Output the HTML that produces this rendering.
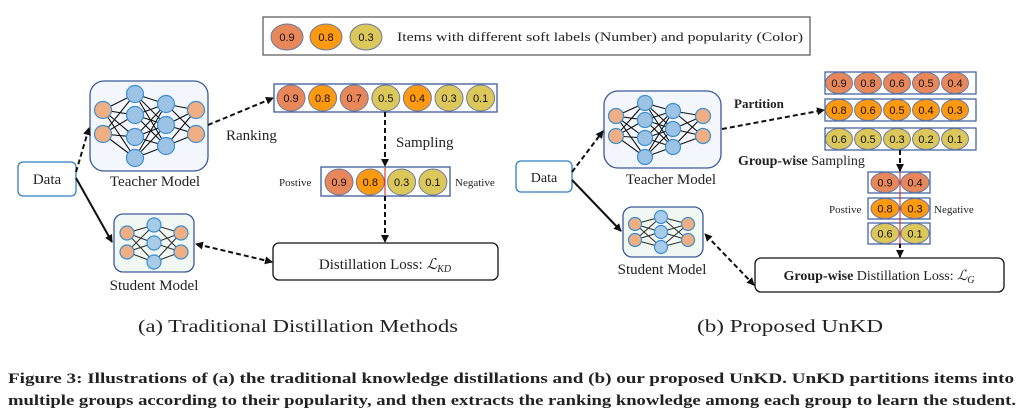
<!DOCTYPE html>
<html><head><meta charset="utf-8"><style>
html,body{margin:0;padding:0;background:#fff;}
svg{display:block;}
.s{font-family:"Liberation Serif",serif;fill:#222;}
.n{font-family:"Liberation Sans",sans-serif;font-size:11px;fill:#111;text-anchor:middle;}
</style></head><body>
<svg id="sv" width="1030" height="415" viewBox="0 0 1030 415" xmlns="http://www.w3.org/2000/svg">
<defs>
<marker id="ah" markerWidth="8" markerHeight="8" refX="7" refY="4" orient="auto" markerUnits="userSpaceOnUse"><path d="M0,0 L8,4 L0,8 z" fill="#111"/></marker>
<marker id="ahs" markerWidth="8" markerHeight="8" refX="1" refY="4" orient="auto" markerUnits="userSpaceOnUse"><path d="M8,0 L0,4 L8,8 z" fill="#111"/></marker>
</defs>
<rect x="263" y="17" width="547" height="38" fill="#fff" stroke="#555" stroke-width="1.2"/>
<g id="legend"></g>
<text class="s" x="397" y="41" font-size="13" textLength="406" lengthAdjust="spacingAndGlyphs">Items with different soft labels (Number) and popularity (Color)</text>

<rect x="18" y="162" width="58" height="34" rx="5" fill="#fff" stroke="#2d7fc0" stroke-width="1.3"/>
<text class="s" x="47" y="184" font-size="15" text-anchor="middle">Data</text>
<rect x="90" y="81" width="118" height="90" rx="14" fill="#f3f7fd" stroke="#3a5a9a" stroke-width="1.3"/>
<g id="tnet1"></g>
<text class="s" x="155" y="186" font-size="15" text-anchor="middle">Teacher Model</text>
<rect x="114" y="214" width="80" height="58" rx="9" fill="#f1f7f2" stroke="#3a5a9a" stroke-width="1.3"/>
<g id="snet1"></g>
<text class="s" x="154" y="290" font-size="15" text-anchor="middle">Student Model</text>

<rect x="274" y="84" width="223" height="28" fill="#fff" stroke="#3a5a9a" stroke-width="1.3"/>
<g id="rank"></g>
<text class="s" x="226" y="140" font-size="15">Ranking</text>
<text class="s" x="396" y="147" font-size="15">Sampling</text>
<rect x="321" y="167" width="129" height="29" fill="#fff" stroke="#3a5a9a" stroke-width="1.3"/>
<g id="samp"></g>
<line x1="385" y1="168" x2="385" y2="195" stroke="#e01010" stroke-width="1"/>
<text class="s" x="279" y="186" font-size="11">Postive</text>
<text class="s" x="455" y="186" font-size="11">Negative</text>
<rect x="273" y="243" width="225" height="37" rx="6" fill="#fff" stroke="#111" stroke-width="1.3"/>
<text class="s" x="385" y="269" font-size="15" text-anchor="middle">Distillation Loss: <tspan font-style="italic">ℒ</tspan><tspan font-size="10" font-style="italic" dy="3">KD</tspan></text>

<g stroke="#111" stroke-width="2" fill="none">
<line x1="76" y1="172" x2="89" y2="128" stroke-dasharray="5,3" marker-end="url(#ah)"/>
<line x1="76" y1="178" x2="112" y2="242" marker-end="url(#ah)"/>
<line x1="208" y1="125" x2="273" y2="98" stroke-dasharray="5,3" marker-end="url(#ah)"/>
<line x1="385" y1="112" x2="385" y2="166" stroke-dasharray="5,3" marker-end="url(#ah)"/>
<line x1="385" y1="196" x2="385" y2="242" stroke-dasharray="5,3" marker-end="url(#ah)"/>
<line x1="272" y1="262" x2="196" y2="244" stroke-dasharray="5,3" marker-end="url(#ah)" marker-start="url(#ahs)"/>
</g>

<rect x="516" y="161" width="56" height="31" rx="5" fill="#fff" stroke="#2d7fc0" stroke-width="1.3"/>
<text class="s" x="544" y="182" font-size="14" text-anchor="middle">Data</text>
<rect x="604" y="91" width="117" height="77" rx="14" fill="#f3f7fd" stroke="#3a5a9a" stroke-width="1.3"/>
<g id="tnet2"></g>
<text class="s" x="671" y="184" font-size="15" text-anchor="middle">Teacher Model</text>
<rect x="623" y="207" width="80" height="50" rx="9" fill="#f1f7f2" stroke="#3a5a9a" stroke-width="1.3"/>
<g id="snet2"></g>
<text class="s" x="662" y="274" font-size="15" text-anchor="middle">Student Model</text>
<text class="s" x="734" y="108" font-size="13" font-weight="bold">Partition</text>
<g id="groups"></g>
<text class="s" x="738" y="165" font-size="14"><tspan font-weight="bold">Group-wise</tspan> Sampling</text>
<g id="gs"></g>
<line x1="900" y1="172" x2="900" y2="244" stroke="#e01010" stroke-width="1"/>
<text class="s" x="829" y="213" font-size="11">Postive</text>
<text class="s" x="934" y="213" font-size="11">Negative</text>
<rect x="755" y="258" width="249" height="34" rx="6" fill="#fff" stroke="#111" stroke-width="1.3"/>
<text class="s" x="879" y="280" font-size="14" text-anchor="middle"><tspan font-weight="bold">Group-wise</tspan> Distillation Loss: <tspan font-style="italic">ℒ</tspan><tspan font-size="10" font-style="italic" dy="3">G</tspan></text>
<g stroke="#111" stroke-width="2" fill="none">
<line x1="572" y1="172" x2="603" y2="131" stroke-dasharray="5,3" marker-end="url(#ah)"/>
<line x1="572" y1="180" x2="621" y2="231" marker-end="url(#ah)"/>
<line x1="722" y1="129" x2="824" y2="110" stroke-dasharray="5,3" marker-end="url(#ah)"/>
<line x1="900" y1="150" x2="900" y2="171" stroke-dasharray="5,3" marker-end="url(#ah)"/>
<line x1="900" y1="244" x2="900" y2="257" stroke-dasharray="4,2" marker-end="url(#ah)"/>
<line x1="754" y1="285" x2="705" y2="234" stroke-dasharray="5,3" marker-end="url(#ah)" marker-start="url(#ahs)"/>
</g>

<text class="s" x="138" y="332" font-size="18" textLength="320" lengthAdjust="spacingAndGlyphs">(a)  Traditional Distillation Methods</text>
<text class="s" x="697" y="332" font-size="18" textLength="186" lengthAdjust="spacingAndGlyphs">(b)  Proposed UnKD</text>
<text class="s" x="8" y="383" font-size="15" font-weight="bold" textLength="1006" lengthAdjust="spacingAndGlyphs">Figure 3: Illustrations of (a) the traditional knowledge distillations and (b) our proposed UnKD. UnKD partitions items into</text>
<text class="s" x="8" y="405" font-size="15" font-weight="bold" textLength="1008" lengthAdjust="spacingAndGlyphs">multiple groups according to their popularity, and then extracts the ranking knowledge among each group to learn the student.</text>
</svg>
<script>
var NS="http://www.w3.org/2000/svg";
var C={d:"#E8875A",o:"#FF9A10",y:"#DCC75A"};
function el(g,t,a){var e=document.createElementNS(NS,t);for(var k in a)e.setAttribute(k,a[k]);g.appendChild(e);return e;}
function item(g,x,y,rx,ry,c,v){el(g,"ellipse",{cx:x,cy:y,rx:rx,ry:ry,fill:C[c],stroke:"#6a7aa0","stroke-width":1});var t=el(g,"text",{x:x,y:y+4,"class":"n"});t.textContent=v;}
var G=function(id){return document.getElementById(id);};
item(G("legend"),287,37,16,13,"d","0.9");item(G("legend"),326,37,16,13,"o","0.8");item(G("legend"),366,37,16,13,"y","0.3");
var r=[["d","0.9"],["o","0.8"],["d","0.7"],["y","0.5"],["o","0.4"],["y","0.3"],["y","0.1"]];
r.forEach(function(a,i){item(G("rank"),291+i*31.6,98,14,13,a[0],a[1]);});
[["d","0.9"],["o","0.8"],["y","0.3"],["y","0.1"]].forEach(function(a,i){item(G("samp"),339+i*31.3,182,14,13,a[0],a[1]);});
var rows=[["d",["0.9","0.8","0.6","0.5","0.4"],72],["o",["0.8","0.6","0.5","0.4","0.3"],99],["y",["0.6","0.5","0.3","0.2","0.1"],128]];
rows.forEach(function(rw){el(G("groups"),"rect",{x:825,y:rw[2],width:151,height:22,fill:"#fff",stroke:"#3a5a9a","stroke-width":1.2});
rw[1].forEach(function(v,i){item(G("groups"),839+i*29,rw[2]+11,13.5,10.5,rw[0],v);});});
[["d","0.9","0.4",172],["o","0.8","0.3",198],["y","0.6","0.1",223]].forEach(function(a){el(G("gs"),"rect",{x:868,y:a[3],width:62,height:21,fill:"#fff",stroke:"#3a5a9a","stroke-width":1.2});
item(G("gs"),885,a[3]+10.5,14,10,a[0],a[1]);item(G("gs"),915,a[3]+10.5,14,10,a[0],a[2]);});
function net(g,layers,r,lc){var cols=layers;
for(var i=0;i<cols.length-1;i++)cols[i].ys.forEach(function(y1){cols[i+1].ys.forEach(function(y2){el(g,"line",{x1:cols[i].x,y1:y1,x2:cols[i+1].x,y2:y2,stroke:lc,"stroke-width":1.1});});});
cols.forEach(function(c){c.ys.forEach(function(y){el(g,"circle",{cx:c.x,cy:y,r:c.r||r,fill:c.c,stroke:"#3c8fd0","stroke-width":1.2});});});}
var O="#EFAE83",B="#9cc3e6",B2="#a8cbe8";
net(G("tnet1"),[{x:103,ys:[110,134],c:O},{x:135,ys:[94,115,137,158],c:B},{x:166,ys:[104,125,146],c:B},{x:196,ys:[110,134],c:O}],8.5,"#111");
net(G("snet1"),[{x:127,ys:[233,252],c:O},{x:154,ys:[225,243,262],c:B2},{x:181,ys:[233,252],c:O}],7,"#333");
net(G("tnet2"),[{x:616,ys:[116,136],c:O},{x:645,ys:[103,120,138,157],c:B},{x:673,ys:[111,129,147],c:B},{x:703,ys:[116,136],c:O}],7.5,"#111");
net(G("snet2"),[{x:635,ys:[224,240],c:O},{x:661,ys:[217,232,247],c:B2},{x:688,ys:[224,240],c:O}],6.5,"#333");
</script>
</body></html>
